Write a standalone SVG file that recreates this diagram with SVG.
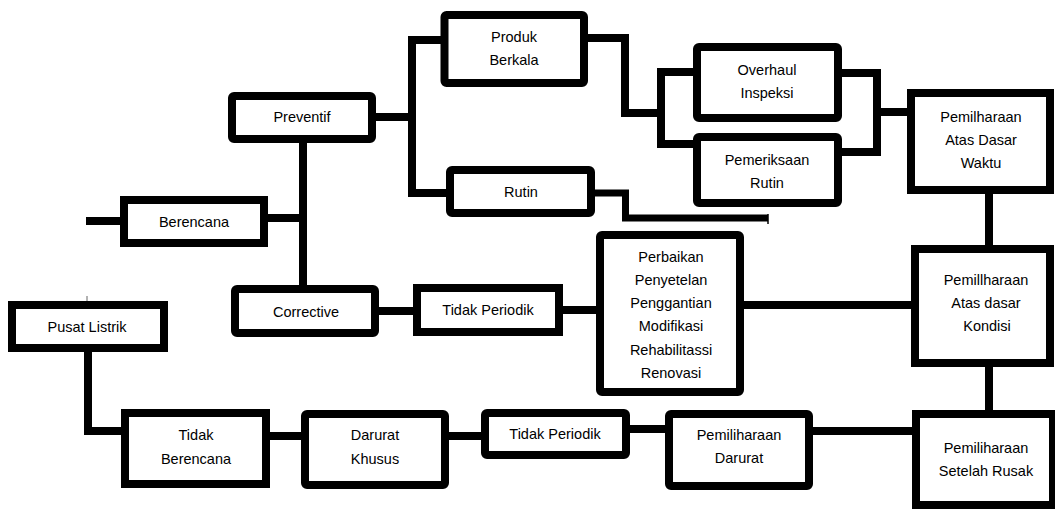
<svg xmlns="http://www.w3.org/2000/svg" width="1055" height="509" viewBox="0 0 1055 509">
<style>
.box{fill:#fff;stroke:#000;stroke-width:8}
.con{fill:none;stroke:#000;stroke-width:8;stroke-linejoin:miter}
.t{font-family:"Liberation Sans",Arial,Helvetica,sans-serif;font-size:14.5px;fill:#000;text-anchor:middle}
</style>
<rect width="1055" height="509" fill="#fff"/>
<g id="connectors">
<path class="con" d="M86 221H124"/>
<path class="con" d="M264 218H303"/>
<path class="con" d="M303 139V289"/>
<path class="con" d="M372 117H412"/>
<path class="con" d="M444 40H412V193H450"/>
<path class="con" d="M584 38H625V113H661"/>
<path class="con" d="M697 72H661V144H697"/>
<path class="con" d="M838 73H877V152H838"/>
<path class="con" d="M877 112H911"/>
<path class="con" d="M989 190V249"/>
<path class="con" d="M989 363V414"/>
<path class="con" d="M375 311H417"/>
<path class="con" d="M559 310H600"/>
<path class="con" d="M740 305H915"/>
<path class="con" d="M591 193H625.5V218H768" style="stroke-width:7"/>
<path d="M768 214V224" stroke="#000" stroke-width="1.5"/>
<path class="con" d="M88 348V431H125"/>
<path class="con" d="M266 436H305"/>
<path class="con" d="M445 436H485"/>
<path class="con" d="M626 429H669"/>
<path class="con" d="M809 431H916"/>
<path d="M87 296V301" stroke="#666" stroke-width="1"/>
</g>
<g id="preventif"><rect class="box" x="232" y="96" width="140" height="43" rx="2"/><text class="t" x="302" y="122">Preventif</text></g>
<g id="berencana"><rect class="box" x="124" y="200" width="140" height="43"/><text class="t" x="194" y="227">Berencana</text></g>
<g id="produk-berkala"><rect class="box" x="444.5" y="15" width="139.5" height="68" rx="2"/><text class="t" x="514" y="42">Produk</text><text class="t" x="514" y="65">Berkala</text></g>
<g id="rutin"><rect class="box" x="450" y="170" width="141" height="43" rx="2"/><text class="t" x="521" y="197">Rutin</text></g>
<g id="overhaul-inspeksi"><rect class="box" x="697" y="47" width="141" height="71" rx="2"/><text class="t" x="767" y="75">Overhaul</text><text class="t" x="767" y="98">Inspeksi</text></g>
<g id="pemeriksaan-rutin"><rect class="box" x="697" y="137" width="141" height="66" rx="2"/><text class="t" x="767" y="165">Pemeriksaan</text><text class="t" x="767" y="188">Rutin</text></g>
<g id="waktu"><rect class="box" x="911" y="93" width="139" height="97"/><text class="t" x="981" y="122">Pemilharaan</text><text class="t" x="981" y="145">Atas Dasar</text><text class="t" x="981" y="168">Waktu</text></g>
<g id="kondisi"><rect class="box" x="915" y="249" width="135" height="114"/><text class="t" x="986" y="285">Pemillharaan</text><text class="t" x="986" y="308">Atas dasar</text><text class="t" x="987" y="331">Kondisi</text></g>
<g id="setelah-rusak"><rect class="box" x="916" y="414" width="137" height="91"/><text class="t" x="986" y="453">Pemiliharaan</text><text class="t" x="986" y="476">Setelah Rusak</text></g>
<g id="corrective"><rect class="box" x="235" y="289" width="140" height="44" rx="2"/><text class="t" x="306" y="317">Corrective</text></g>
<g id="tidak-periodik-1"><rect class="box" x="417" y="288" width="142" height="44"/><text class="t" x="488" y="315">Tidak Periodik</text></g>
<g id="perbaikan"><rect class="box" x="600" y="235" width="140" height="157" rx="2"/><text class="t" x="671" y="262">Perbaikan</text><text class="t" x="671" y="285">Penyetelan</text><text class="t" x="671" y="308">Penggantian</text><text class="t" x="671" y="331">Modifikasi</text><text class="t" x="671" y="354.5">Rehabilitassi</text><text class="t" x="671" y="378">Renovasi</text></g>
<g id="pusat-listrik"><rect class="box" x="12" y="305" width="152" height="43"/><text class="t" x="87" y="332">Pusat Listrik</text></g>
<g id="tidak-berencana"><rect class="box" x="125" y="413" width="141" height="71"/><text class="t" x="196" y="440">Tidak</text><text class="t" x="196" y="464">Berencana</text></g>
<g id="darurat-khusus"><rect class="box" x="305" y="414" width="140" height="71" rx="2"/><text class="t" x="375" y="440">Darurat</text><text class="t" x="375" y="464">Khusus</text></g>
<g id="tidak-periodik-2"><rect class="box" x="485" y="413" width="141" height="42" rx="2"/><text class="t" x="555" y="439">Tidak Periodik</text></g>
<g id="pemiliharaan-darurat"><rect class="box" x="669" y="414" width="140" height="72" rx="2"/><text class="t" x="739" y="440">Pemiliharaan</text><text class="t" x="739" y="463">Darurat</text></g>
</svg>
